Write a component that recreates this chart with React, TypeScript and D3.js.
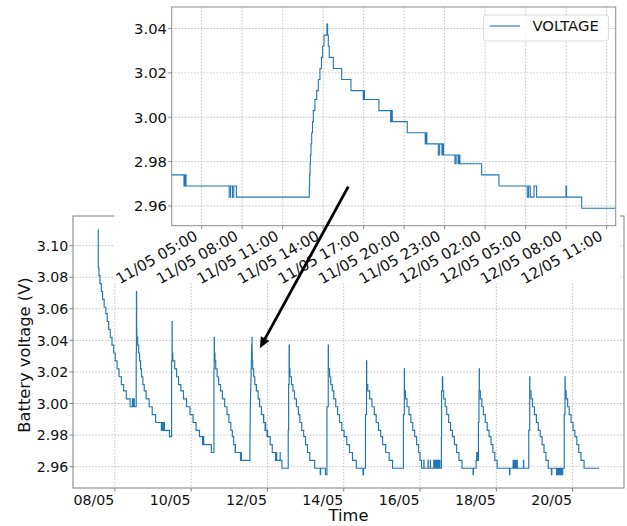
import React, { useRef, useEffect } from 'react';
import * as d3 from 'd3';

// battery voltage readings, [day of May, volts]
const cycle1 = [
  [7.56, 3.11], [7.566, 3.086], [7.585, 3.081], [7.61, 3.076], [7.645, 3.071], [7.68, 3.066],
  [7.72, 3.061], [7.765, 3.057], [7.8, 3.052], [7.84, 3.047], [7.88, 3.042], [7.925, 3.037],
  [7.97, 3.032], [8.01, 3.027], [8.06, 3.022], [8.11, 3.017], [8.17, 3.012], [8.23, 3.008],
  [8.3, 3.003], [8.4, 2.998], [8.46, 3.003], [8.475, 2.998], [8.495, 3.003], [8.51, 2.998]
];
const cycle2 = [
  [8.56, 3.032], [8.566, 3.071], [8.572, 3.047], [8.578, 3.042], [8.6, 3.037], [8.625, 3.032],
  [8.65, 3.027], [8.675, 3.022], [8.7, 3.017], [8.735, 3.012], [8.77, 3.008], [8.82, 3.003],
  [8.9, 2.998], [8.98, 2.993], [9.07, 2.988], [9.22, 2.983], [9.23, 2.988], [9.26, 2.983],
  [9.275, 2.988], [9.3, 2.983], [9.43, 2.979]
];
const cycle3 = [
  [9.488, 3.027], [9.5, 3.052], [9.504, 3.032], [9.52, 3.027], [9.57, 3.022], [9.62, 3.017],
  [9.67, 3.012], [9.73, 3.008], [9.8, 3.003], [9.88, 2.998], [9.97, 2.993], [10.05, 2.988],
  [10.13, 2.983], [10.22, 2.979], [10.3, 2.974], [10.31, 2.979], [10.33, 2.974], [10.53, 2.969]
];
const cycle4 = [
  [10.598, 3.022], [10.605, 3.042], [10.61, 3.032], [10.625, 3.027], [10.645, 3.022],
  [10.68, 3.017], [10.72, 3.012], [10.77, 3.008], [10.82, 3.003], [10.88, 2.998],
  [10.94, 2.993], [10.99, 2.988], [11.04, 2.983], [11.08, 2.979]
];
// zoomed window, [hours since 11/05 00:00, volts]
const zoomWindow = [
  [2.78, 2.974], [3.69, 2.969], [3.76, 2.974], [3.84, 2.969],
  [7.04, 2.964], [7.14, 2.969], [7.28, 2.964], [7.38, 2.969], [7.57, 2.964],
  [12.97, 2.969], [13.0, 2.974], [13.03, 2.979], [13.06, 2.983], [13.1, 2.988], [13.15, 2.993],
  [13.21, 2.998], [13.27, 3.003], [13.39, 3.008], [13.52, 3.012], [13.64, 3.017], [13.76, 3.022],
  [13.87, 3.027], [13.96, 3.032], [14.06, 3.037], [14.28, 3.042], [14.33, 3.037], [14.38, 3.032],
  [14.45, 3.027], [14.75, 3.022], [15.37, 3.017], [16.06, 3.012],
  [16.97, 3.008], [17.02, 3.012], [17.06, 3.008], [18.13, 3.003],
  [19.0, 2.998], [19.06, 3.003], [19.12, 2.998], [20.23, 2.993],
  [21.56, 2.988], [21.62, 2.993], [21.68, 2.988],
  [22.53, 2.983], [22.63, 2.988], [22.8, 2.983], [22.88, 2.988], [22.92, 2.983],
  [23.76, 2.979], [23.85, 2.983], [24.0, 2.979], [24.08, 2.983], [24.13, 2.979],
  [25.74, 2.974], [27.02, 2.969],
  [29.12, 2.964], [29.22, 2.969], [29.34, 2.964], [29.62, 2.969], [29.81, 2.964],
  [31.99, 2.969], [32.03, 2.964], [33.15, 2.959], [35.67, 2.959]
];
const cycle6 = [
  [12.545, 2.983], [12.555, 3.012], [12.568, 3.037], [12.575, 3.022], [12.59, 3.017],
  [12.63, 3.012], [12.67, 3.008], [12.71, 3.003], [12.76, 2.998], [12.81, 2.993], [12.85, 2.988],
  [12.9, 2.983], [12.95, 2.979], [13.0, 2.974], [13.05, 2.969], [13.11, 2.964], [13.24, 2.959],
  [13.385, 2.955], [13.395, 2.959], [13.52, 2.955]
];
const cycle7 = [
  [13.56, 2.998], [13.594, 3.037], [13.6, 3.022], [13.63, 3.017], [13.66, 3.012], [13.7, 3.008],
  [13.74, 3.003], [13.79, 2.998], [13.84, 2.993], [13.89, 2.988], [13.95, 2.983], [14.01, 2.979],
  [14.08, 2.974], [14.15, 2.969], [14.23, 2.964], [14.33, 2.959], [14.505, 2.955], [14.52, 2.959]
];
const cycle8 = [
  [14.57, 2.993], [14.598, 3.027], [14.603, 3.012], [14.63, 3.008], [14.68, 3.003], [14.74, 2.998],
  [14.8, 2.993], [14.85, 2.988], [14.91, 2.983], [14.97, 2.979], [15.02, 2.974], [15.1, 2.969],
  [15.19, 2.964], [15.28, 2.959]
];
const cycle9 = [
  [15.565, 2.993], [15.588, 3.022], [15.592, 3.008], [15.62, 3.003], [15.66, 2.998], [15.71, 2.993],
  [15.76, 2.988], [15.81, 2.983], [15.86, 2.979], [15.91, 2.974], [15.96, 2.969], [16.0, 2.964],
  [16.04, 2.959], [16.1, 2.964], [16.105, 2.959], [16.21, 2.964], [16.215, 2.959], [16.27, 2.964],
  [16.275, 2.959], [16.36, 2.964], [16.37, 2.959], [16.39, 2.964], [16.4, 2.959], [16.42, 2.964],
  [16.43, 2.959], [16.45, 2.964], [16.46, 2.959], [16.48, 2.964], [16.49, 2.959], [16.51, 2.964],
  [16.52, 2.959]
];
const cycle10 = [
  [16.56, 2.979], [16.565, 3.008], [16.585, 3.017], [16.595, 3.008], [16.62, 3.003], [16.66, 2.998],
  [16.7, 2.993], [16.75, 2.988], [16.8, 2.983], [16.85, 2.979], [16.9, 2.974], [16.96, 2.969],
  [17.02, 2.964], [17.1, 2.959], [17.39, 2.955], [17.4, 2.959], [17.47, 2.964], [17.485, 2.969],
  [17.5, 2.964]
];
const cycle11 = [
  [17.53, 2.988], [17.545, 3.008], [17.552, 3.022], [17.556, 3.008], [17.58, 3.003], [17.62, 2.998],
  [17.66, 2.993], [17.71, 2.988], [17.76, 2.983], [17.81, 2.979], [17.86, 2.974], [17.91, 2.969],
  [17.96, 2.964], [18.02, 2.959], [18.345, 2.955], [18.355, 2.959], [18.44, 2.964], [18.45, 2.959],
  [18.46, 2.964], [18.47, 2.959], [18.48, 2.964], [18.49, 2.959], [18.5, 2.964], [18.51, 2.959],
  [18.52, 2.964], [18.53, 2.959], [18.54, 2.964], [18.55, 2.959], [18.71, 2.964], [18.715, 2.959]
];
const cycle12 = [
  [18.85, 2.983], [18.875, 3.017], [18.88, 3.008], [18.91, 3.003], [18.95, 2.998], [19.0, 2.993],
  [19.05, 2.988], [19.1, 2.983], [19.15, 2.979], [19.2, 2.974], [19.25, 2.969], [19.3, 2.964],
  [19.36, 2.959], [19.445, 2.955], [19.455, 2.959], [19.58, 2.955], [19.59, 2.959], [19.6, 2.955],
  [19.61, 2.959], [19.62, 2.955], [19.63, 2.959], [19.64, 2.955], [19.65, 2.959], [19.66, 2.955],
  [19.67, 2.959], [19.68, 2.955], [19.69, 2.959], [19.7, 2.955], [19.71, 2.959], [19.72, 2.955],
  [19.74, 2.959]
];
const cycle13 = [
  [19.78, 2.993], [19.8, 3.017], [19.805, 3.008], [19.83, 3.003], [19.87, 2.998], [19.91, 2.993],
  [19.96, 2.988], [20.01, 2.983], [20.06, 2.979], [20.11, 2.974], [20.16, 2.969], [20.22, 2.964],
  [20.3, 2.959], [20.69, 2.959]
];

const mainXTicks = [8, 10, 12, 14, 16, 18, 20];
const mainXLabels = ['08/05', '10/05', '12/05', '14/05', '16/05', '18/05', '20/05'];
const mainYTicks = [2.96, 2.98, 3.0, 3.02, 3.04, 3.06, 3.08, 3.1];
const zoomXTicks = [5, 8, 11, 14, 17, 20, 23, 26, 29, 32, 35];
const zoomXLabels = [
  '11/05 05:00', '11/05 08:00', '11/05 11:00', '11/05 14:00', '11/05 17:00', '11/05 20:00',
  '11/05 23:00', '12/05 02:00', '12/05 05:00', '12/05 08:00', '12/05 11:00'
];
const zoomYTicks = [2.96, 2.98, 3.0, 3.02, 3.04];
// annotation arrow: tail in zoom axes (hour, V), head in main axes (day, V)
const arrowFrom = [15.86, 2.9687];
const arrowTo = [11.8, 3.035];

const W = 627;
const H = 526;
const BLUE = '#1f77b4';
const FONT = "'DejaVu Sans', sans-serif";

const App = () => {
  const svgRef = useRef(null);

  useEffect(() => {
    document.body.style.margin = '0';
    const svg = d3.select(svgRef.current);
    svg.selectAll('*').remove();

    const main = { left: 73, right: 624, top: 216, bottom: 488 };
    const zoom = { left: 171.7, right: 615.7, top: 7, bottom: 225.7 };

    const mainData = [
      ...cycle1, ...cycle2, ...cycle3, ...cycle4,
      ...zoomWindow.map(([h, v]) => [11 + h / 24, v]),
      ...cycle6, ...cycle7, ...cycle8, ...cycle9, ...cycle10, ...cycle11, ...cycle12, ...cycle13
    ];

    const x = d3.scaleLinear().domain([6.9035, 21.3465]).range([main.left, main.right]);
    const y = d3.scaleLinear().domain([2.9465, 3.1188]).range([main.bottom, main.top]);
    const zx = d3.scaleLinear().domain([2.78, 35.67]).range([zoom.left, zoom.right]);
    const zy = d3.scaleLinear().domain([2.9511, 3.0497]).range([zoom.bottom, zoom.top]);
    const fmt = d3.format('.2f');

    svg.append('rect').attr('width', W).attr('height', H).attr('fill', '#fff');

    // ---- main axes
    const g = svg.append('g');
    g.selectAll('.vgrid')
      .data(mainXTicks)
      .enter()
      .append('line')
      .attr('x1', d => x(d)).attr('x2', d => x(d))
      .attr('y1', main.top).attr('y2', main.bottom)
      .attr('stroke', '#b4b4b4').attr('stroke-width', 0.8).attr('stroke-dasharray', '1.6,1.6');
    g.selectAll('.hgrid')
      .data(mainYTicks)
      .enter()
      .append('line')
      .attr('x1', main.left).attr('x2', main.right)
      .attr('y1', d => y(d)).attr('y2', d => y(d))
      .attr('stroke', '#b4b4b4').attr('stroke-width', 0.8).attr('stroke-dasharray', '1.6,1.6');

    const mainLine = d3.line().curve(d3.curveStepAfter).x(d => x(d[0])).y(d => y(d[1]));
    g.append('path')
      .attr('d', mainLine(mainData))
      .attr('fill', 'none').attr('stroke', BLUE).attr('stroke-width', 1.15);

    g.append('rect')
      .attr('x', main.left).attr('y', main.top)
      .attr('width', main.right - main.left).attr('height', main.bottom - main.top)
      .attr('fill', 'none').attr('stroke', '#808080').attr('stroke-width', 1);

    g.selectAll('.xt')
      .data(mainXTicks)
      .enter()
      .append('line')
      .attr('x1', d => x(d)).attr('x2', d => x(d))
      .attr('y1', main.bottom).attr('y2', main.bottom + 3.5)
      .attr('stroke', '#808080');
    g.selectAll('.xl')
      .data(mainXTicks)
      .enter()
      .append('text')
      .attr('x', d => x(d) - 0.5).attr('y', 505)
      .attr('text-anchor', 'end')
      .style('font-family', FONT).style('font-size', '14.2px').attr('fill', '#111')
      .text((d, i) => mainXLabels[i]);
    g.selectAll('.yt')
      .data(mainYTicks)
      .enter()
      .append('line')
      .attr('x1', main.left - 3.5).attr('x2', main.left)
      .attr('y1', d => y(d)).attr('y2', d => y(d))
      .attr('stroke', '#808080');
    g.selectAll('.yl')
      .data(mainYTicks)
      .enter()
      .append('text')
      .attr('x', main.left - 4.7).attr('y', d => y(d)).attr('dy', '0.36em')
      .attr('text-anchor', 'end')
      .style('font-family', FONT).style('font-size', '14.2px').attr('fill', '#111')
      .text(d => fmt(d));

    g.append('text')
      .attr('transform', `translate(29.5,355) rotate(-90)`)
      .attr('text-anchor', 'middle')
      .style('font-family', FONT).style('font-size', '16.3px').attr('fill', '#111')
      .text('Battery voltage (V)');
    g.append('text')
      .attr('x', (main.left + main.right) / 2).attr('y', 521)
      .attr('text-anchor', 'middle')
      .style('font-family', FONT).style('font-size', '16.3px').attr('fill', '#111')
      .text('Time');

    // ---- zoomed inset, pasted over the main axes
    const z = svg.append('g');
    z.append('rect')
      .attr('x', 114).attr('y', 0).attr('width', 620 - 114).attr('height', 283)
      .attr('fill', '#fff');

    z.selectAll('.zv')
      .data(zoomXTicks)
      .enter()
      .append('line')
      .attr('x1', d => zx(d)).attr('x2', d => zx(d))
      .attr('y1', zoom.top).attr('y2', zoom.bottom)
      .attr('stroke', '#b4b4b4').attr('stroke-width', 0.8).attr('stroke-dasharray', '1.6,1.6');
    z.selectAll('.zh')
      .data(zoomYTicks)
      .enter()
      .append('line')
      .attr('x1', zoom.left).attr('x2', zoom.right)
      .attr('y1', d => zy(d)).attr('y2', d => zy(d))
      .attr('stroke', '#b4b4b4').attr('stroke-width', 0.8).attr('stroke-dasharray', '1.6,1.6');

    const zoomLine = d3.line().curve(d3.curveStepAfter).x(d => zx(d[0])).y(d => zy(d[1]));
    z.append('path')
      .attr('d', zoomLine(zoomWindow))
      .attr('fill', 'none').attr('stroke', BLUE).attr('stroke-width', 1.1);

    z.append('rect')
      .attr('x', zoom.left).attr('y', zoom.top)
      .attr('width', zoom.right - zoom.left).attr('height', zoom.bottom - zoom.top)
      .attr('fill', 'none').attr('stroke', '#8c8c8c').attr('stroke-width', 1);

    z.selectAll('.zyt')
      .data(zoomYTicks)
      .enter()
      .append('line')
      .attr('x1', zoom.left - 3.5).attr('x2', zoom.left)
      .attr('y1', d => zy(d)).attr('y2', d => zy(d))
      .attr('stroke', '#8c8c8c');
    z.selectAll('.zyl')
      .data(zoomYTicks)
      .enter()
      .append('text')
      .attr('x', zoom.left - 4.7).attr('y', d => zy(d)).attr('dy', '0.36em')
      .attr('text-anchor', 'end')
      .style('font-family', FONT).style('font-size', '14.8px').attr('fill', '#111')
      .text(d => fmt(d));
    z.selectAll('.zxt')
      .data(zoomXTicks)
      .enter()
      .append('line')
      .attr('x1', d => zx(d)).attr('x2', d => zx(d))
      .attr('y1', zoom.bottom).attr('y2', zoom.bottom + 3.5)
      .attr('stroke', '#8c8c8c');
    z.selectAll('.zxl')
      .data(zoomXTicks)
      .enter()
      .append('text')
      .attr('transform', d => `translate(${zx(d) - 3},239) rotate(-30)`)
      .attr('text-anchor', 'end')
      .style('font-family', FONT).style('font-size', '15px').attr('fill', '#111')
      .text((d, i) => zoomXLabels[i]);

    // legend
    const lg = z.append('g');
    lg.append('rect')
      .attr('x', 483.5).attr('y', 15).attr('width', 125).attr('height', 26).attr('rx', 3)
      .attr('fill', '#fff').attr('fill-opacity', 0.8)
      .attr('stroke', '#dcdcdc').attr('stroke-width', 1);
    lg.append('line')
      .attr('x1', 489.5).attr('x2', 520).attr('y1', 26).attr('y2', 26)
      .attr('stroke', BLUE).attr('stroke-width', 1.1);
    lg.append('text')
      .attr('x', 532.5).attr('y', 31.4)
      .style('font-family', FONT).style('font-size', '14.8px').attr('fill', '#111')
      .text('VOLTAGE');

    // ---- arrow from the inset to the zoomed cycle
    const tail = [zx(arrowFrom[0]), zy(arrowFrom[1])];
    const tip = [x(arrowTo[0]), y(arrowTo[1])];
    const dx = tip[0] - tail[0];
    const dy = tip[1] - tail[1];
    const len = Math.hypot(dx, dy);
    const ux = dx / len;
    const uy = dy / len;
    const headLen = 11;
    const headHalf = 4.8;
    const base = [tip[0] - ux * headLen, tip[1] - uy * headLen];
    svg.append('line')
      .attr('x1', tail[0]).attr('y1', tail[1])
      .attr('x2', base[0] + ux * 2).attr('y2', base[1] + uy * 2)
      .attr('stroke', '#000').attr('stroke-width', 2.8);
    svg.append('polygon')
      .attr('points', [
        tip,
        [base[0] - uy * headHalf, base[1] + ux * headHalf],
        [base[0] + uy * headHalf, base[1] - ux * headHalf]
      ].map(p => p.join(',')).join(' '))
      .attr('fill', '#000');
  }, []);

  return (
    <div style={{ position: 'absolute', left: 0, top: 0, width: W, height: H }}>
      <svg ref={svgRef} width={W} height={H} style={{ display: 'block' }}></svg>
    </div>
  );
};

export default App;
